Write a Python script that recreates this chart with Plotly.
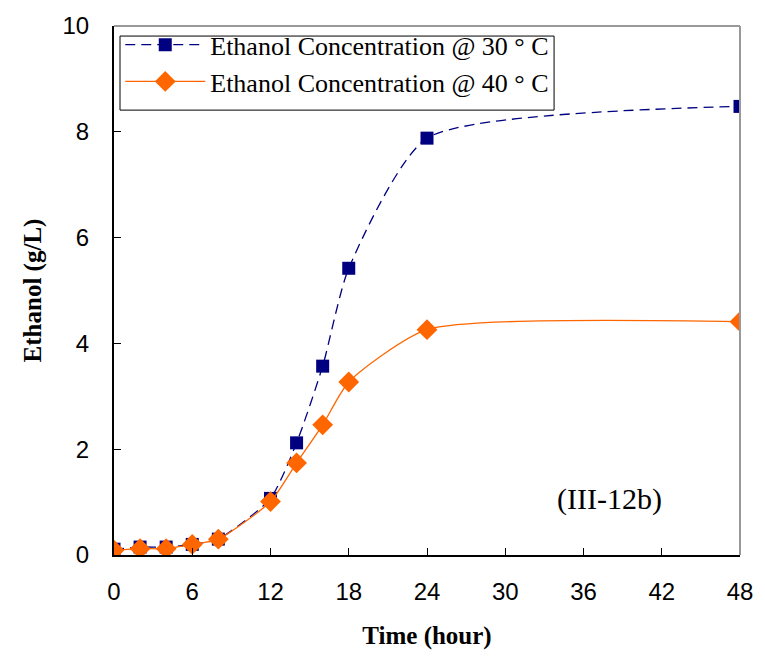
import plotly.graph_objects as go

# Sampling times (hours)
time_h = [0, 2, 4, 6, 8, 12, 14, 16, 18, 24, 48]

# Ethanol concentration (g/L)
ethanol_30c = [0.11, 0.15, 0.15, 0.20, 0.30, 1.07, 2.12, 3.57, 5.42, 7.88, 8.48]
ethanol_40c = [0.09, 0.12, 0.12, 0.20, 0.30, 1.01, 1.74, 2.46, 3.27, 4.26, 4.41]

x_ticks = [0, 6, 12, 18, 24, 30, 36, 42, 48]
y_ticks = [0, 2, 4, 6, 8, 10]

serif = "Liberation Serif, Times New Roman, serif"
sans = "Liberation Sans, Arial, sans-serif"

fig = go.Figure()
fig.add_trace(go.Scatter(
    x=time_h, y=ethanol_30c, mode="lines+markers",
    name="Ethanol Concentration @ 30 ° C",
    line=dict(color="#000080", width=1.3, dash="10px,6px", shape="spline", smoothing=0.6),
    marker=dict(symbol="square", size=13, color="#000080"),
))
fig.add_trace(go.Scatter(
    x=time_h, y=ethanol_40c, mode="lines+markers",
    name="Ethanol Concentration @ 40 ° C",
    line=dict(color="#FF6600", width=1.3, shape="spline", smoothing=0.6),
    marker=dict(symbol="diamond", size=16, color="#FF6600"),
))

fig.add_annotation(
    x=38.0, y=1.05, xref="x", yref="y", text="(III-12b)", showarrow=False,
    font=dict(family=serif, size=30, color="black"),
)

# gray frame on top and right
fig.add_shape(type="line", xref="paper", yref="paper", x0=0, x1=1, y0=1, y1=1,
              line=dict(color="#999999", width=2))
fig.add_shape(type="line", xref="paper", yref="paper", x0=1, x1=1, y0=0, y1=1,
              line=dict(color="#999999", width=2))

# legend frame (tighter than the built-in legend border)
fig.add_shape(type="rect", xref="paper", yref="paper", layer="above",
              x0=0.0096, x1=0.703, y0=0.841, y1=0.981,
              line=dict(color="black", width=1), fillcolor="white")

fig.update_layout(
    width=765, height=657,
    margin=dict(l=114, r=24, t=20, b=102),
    paper_bgcolor="white", plot_bgcolor="white",
    showlegend=True,
    legend=dict(
        x=0.01, y=1.009, xanchor="left", yanchor="top",
        bgcolor="rgba(0,0,0,0)", borderwidth=0,
        font=dict(family=serif, size=26, color="black"),
        itemwidth=80, tracegroupgap=0,
    ),
    xaxis=dict(
        range=[0, 48], tickvals=x_ticks, ticks="inside", ticklen=7, tickcolor="black",
        showline=True, linecolor="black", linewidth=2, showgrid=False, zeroline=False,
        tickfont=dict(family=sans, size=24, color="black"), ticklabelstandoff=14,
        title=dict(text="<b>Time (hour)</b>", font=dict(family=serif, size=25, color="black"), standoff=23),
    ),
    yaxis=dict(
        range=[0, 10], tickvals=y_ticks, ticks="inside", ticklen=7, tickcolor="black",
        showline=True, linecolor="black", linewidth=2, showgrid=False, zeroline=False,
        tickfont=dict(family=sans, size=24, color="black"), ticklabelstandoff=18,
        title=dict(text="<b>Ethanol (g/L)</b>", font=dict(family=serif, size=25, color="black"), standoff=14),
    ),
)

fig.write_html("out.html")
